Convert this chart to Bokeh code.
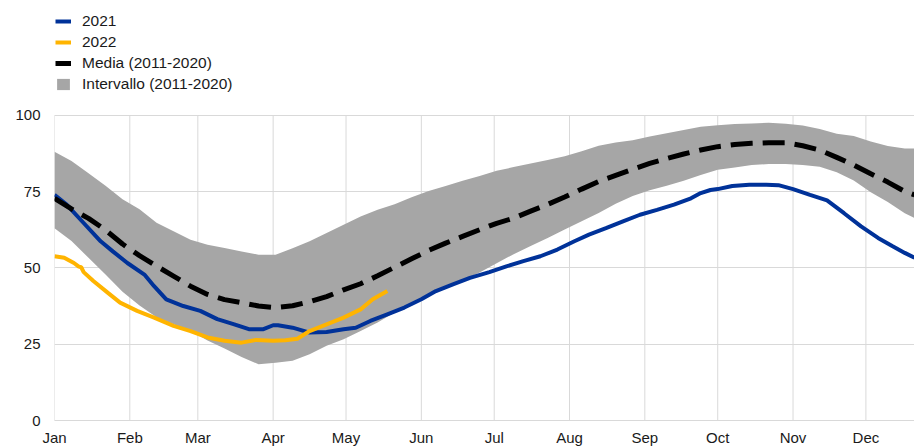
from bokeh.plotting import figure
from bokeh.models import Range1d, FixedTicker, Legend, LegendItem
from bokeh.embed import file_html
from bokeh.resources import INLINE

# ---- data (day of year, percentage) ----
month_names = ["Jan", "Feb", "Mar", "Apr", "May", "Jun",
               "Jul", "Aug", "Sep", "Oct", "Nov", "Dec"]
month_days = [0, 31, 59, 90, 120, 151, 181, 212, 243, 273, 304, 334]
y_ticks = [0, 25, 50, 75, 100]

band_days = [0, 7, 14, 21, 28, 35, 42, 49, 56, 63, 70, 77, 84, 91, 98, 105, 112,
             119, 126, 133, 140, 147, 154, 161, 168, 175, 182, 189, 196, 203, 210,
             217, 224, 231, 238, 245, 252, 259, 266, 273, 280, 287, 294, 301, 308,
             315, 322, 329, 336, 343, 350, 354]
band_upper = [88.0, 85.0, 81.0, 76.9, 72.5, 69.2, 64.8, 62.0, 59.2, 57.6, 56.5,
              55.4, 54.3, 54.3, 56.4, 58.7, 61.4, 64.1, 66.8, 69.0, 70.8, 73.1,
              75.2, 76.8, 78.5, 80.1, 81.8, 83.0, 84.2, 85.3, 86.6, 88.2, 90.0,
              91.1, 91.8, 93.0, 94.1, 95.2, 96.2, 96.7, 97.1, 97.3, 97.5, 97.2,
              96.6, 95.5, 93.9, 93.2, 91.4, 89.9, 89.1, 89.1]
band_lower = [63.0, 58.8, 53.3, 47.8, 42.2, 37.7, 33.8, 31.5, 29.3, 26.2, 23.6,
              20.8, 18.4, 18.9, 19.6, 21.7, 24.5, 26.6, 29.3, 32.1, 35.4, 38.3,
              41.5, 44.0, 46.0, 48.5, 51.5, 54.5, 57.2, 59.8, 62.6, 65.3, 68.0,
              71.0, 73.5, 75.4, 76.9, 78.5, 80.4, 82.1, 82.9, 83.7, 84.0, 84.0,
              83.7, 83.1, 81.3, 78.6, 74.8, 71.6, 67.9, 66.3]
mean_vals = [72.8, 69.3, 66.2, 62.4, 57.8, 54.0, 50.6, 47.3, 44.0, 41.3, 39.6,
             38.6, 37.5, 37.0, 37.6, 38.9, 40.6, 42.8, 44.8, 47.4, 50.2, 53.0,
             55.7, 58.1, 60.3, 62.5, 64.6, 66.3, 68.6, 70.8, 73.2, 75.8, 78.3,
             80.3, 82.3, 84.2, 85.8, 87.3, 88.6, 89.7, 90.4, 90.8, 91.0, 91.0,
             90.0, 88.6, 86.2, 83.7, 80.8, 78.1, 75.0, 73.9]

days_2021 = [0, 5, 12, 19, 24, 30, 37, 41, 46, 53, 60, 67, 74, 80, 86, 90, 92,
             98, 105, 112, 119, 124, 130, 137, 144, 151, 157, 164, 171, 179, 186,
             193, 200, 207, 214, 220, 227, 234, 241, 248, 255, 262, 266, 270, 273,
             279, 286, 293, 298, 304, 311, 318, 325, 332, 339, 345, 350, 354]
vals_2021 = [73.9, 70.7, 64.7, 58.7, 55.4, 51.6, 47.8, 44.0, 39.7, 37.5, 35.9,
             33.2, 31.5, 29.9, 29.9, 31.2, 31.2, 30.4, 28.8, 29.0, 29.9, 30.4,
             32.6, 34.8, 37.0, 39.7, 42.4, 44.6, 46.7, 48.6, 50.5, 52.2, 53.8,
             56.0, 58.7, 60.9, 63.0, 65.2, 67.4, 69.0, 70.7, 72.8, 74.5, 75.5,
             75.8, 76.8, 77.2, 77.2, 77.1, 75.8, 73.9, 72.1, 67.9, 63.6, 59.8,
             57.1, 54.9, 53.3]

days_2022 = [0, 4, 8, 10, 11, 12, 16, 22, 27, 34, 41, 49, 56, 63, 70, 77, 83,
             90, 95, 100, 105, 112, 119, 126, 131, 137]
vals_2022 = [53.8, 53.3, 51.6, 50.4, 50.2, 48.6, 45.7, 41.8, 38.6, 35.9, 33.7,
             31.0, 29.3, 27.2, 26.1, 25.5, 26.4, 26.1, 26.3, 26.8, 29.3, 31.5,
             33.7, 36.4, 39.7, 42.4]

FONT = "Liberation Sans"
GRID = "#d9d9d9"

HEIGHT = 448
FRAME_H = 421          # px of plot frame (legend lives inside its upper part)
VALUE_H = 306          # px that span 0..100
Y_TOP = 100 * FRAME_H / VALUE_H

p = figure(width=914, height=HEIGHT, output_backend="svg", toolbar_location=None,
           x_range=Range1d(0, 354), y_range=Range1d(0, Y_TOP),
           min_border_left=54, min_border_right=0, min_border_top=0,
           min_border_bottom=HEIGHT - FRAME_H)
p.outline_line_color = None

# horizontal grid via the axis ticker, vertical month lines only up to 100
p.xgrid.visible = False
p.ygrid.ticker = FixedTicker(ticks=y_ticks)
p.ygrid.grid_line_color = GRID
p.ygrid.grid_line_width = 1
p.segment(x0=month_days, y0=[y_ticks[0]] * len(month_days),
          x1=month_days, y1=[y_ticks[-1]] * len(month_days),
          line_color=GRID, line_width=1)

band = p.varea(x=band_days, y1=band_lower, y2=band_upper,
               fill_color="#a6a6a6", fill_alpha=1.0)
r21 = p.line(days_2021, vals_2021, line_color="#003299", line_width=4)
r22 = p.line(days_2022, vals_2022, line_color="#ffb400", line_width=4)
rmean = p.line(band_days, mean_vals, line_color="#000000", line_width=5,
               line_dash="22 10")

# axes
p.xaxis.ticker = FixedTicker(ticks=month_days)
p.xaxis.major_label_overrides = {d: m for d, m in zip(month_days, month_names)}
p.xaxis.axis_line_color = GRID
p.xaxis.major_tick_line_color = None
p.xaxis.minor_tick_line_color = None
p.xaxis.major_tick_out = 0
p.xaxis.major_label_standoff = 8
p.yaxis.ticker = FixedTicker(ticks=y_ticks)
p.yaxis.axis_line_color = None
p.yaxis.major_tick_line_color = None
p.yaxis.minor_tick_line_color = None
p.yaxis.major_tick_out = 0
p.yaxis.major_label_standoff = 14
for ax in (p.xaxis, p.yaxis):
    ax.major_label_text_font = FONT
    ax.major_label_text_font_size = "15px"
    ax.major_label_text_color = "#1a1a1a"

legend = Legend(items=[LegendItem(label="2021", renderers=[r21]),
                       LegendItem(label="2022", renderers=[r22]),
                       LegendItem(label="Media (2011-2020)", renderers=[rmean]),
                       LegendItem(label="Intervallo (2011-2020)", renderers=[band])],
                location=(1, 326), orientation="vertical",
                border_line_color=None, background_fill_alpha=0,
                label_text_font=FONT, label_text_font_size="15.5px",
                label_text_color="#1a1a1a",
                glyph_width=16, glyph_height=14, label_height=21, spacing=0,
                padding=0, margin=0, label_standoff=11)
p.add_layout(legend, "center")

open("out.html", "w").write(file_html(p, INLINE))
